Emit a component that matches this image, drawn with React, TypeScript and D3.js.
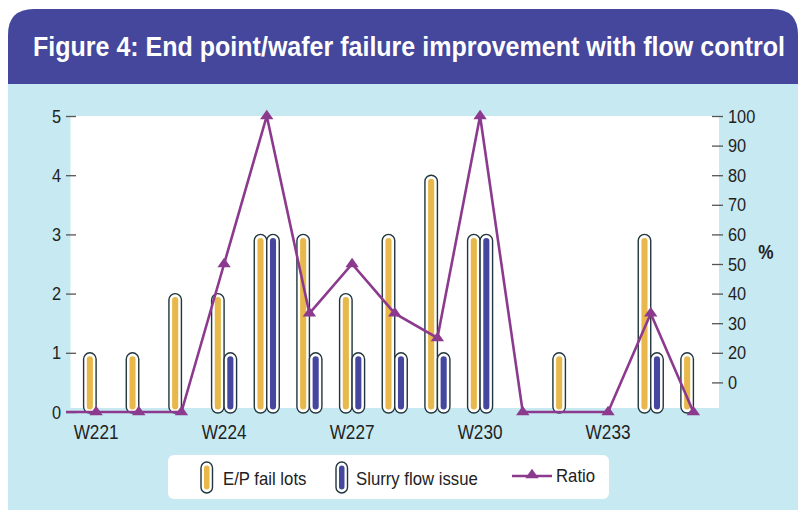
import { useEffect, useRef } from 'react';
import * as d3 from 'd3';

// data
const weeks = ['W221', 'W222', 'W223', 'W224', 'W225', 'W226', 'W227', 'W228', 'W229', 'W230', 'W231', 'W232', 'W233', 'W234', 'W235'];
const epFailLots = [1, 1, 2, 2, 3, 3, 2, 3, 4, 3, 0, 1, 0, 3, 1];
const slurryFlow = [0, 0, 0, 1, 3, 1, 1, 1, 1, 3, 0, 0, 0, 1, 0];
const ratio: (number | null)[] = [0, 0, 0, 50, 100, 33.3, 50, 33.3, 25, 100, 0, null, 0, 33.3, 0];
const xLabels = ['W221', 'W224', 'W227', 'W230', 'W233'];
const leftTicks = [0, 1, 2, 3, 4, 5];
const rightTicks = [10, 20, 30, 40, 50, 60, 70, 80, 90, 100];
const rightTickLabels = ['0', '20', '30', '40', '50', '60', '70', '80', '90', '100'];

const W = 799;
const H = 510;
const FONT = '"Liberation Sans", Arial, sans-serif';
const SX = 0.86; // horizontal squeeze to mimic a condensed face
const PURPLE = '#44479c';
const SKY = '#c7e9f2';
const YELLOW = '#e8b84a';
const BLUE = '#45479e';
const LINE = '#8c3a8e';
const OUTLINE = '#22353c';

const App: React.FC = () => {
    const ref = useRef<SVGSVGElement | null>(null);

    useEffect(() => {
        const svg = d3.select(ref.current);
        svg.selectAll('*').remove();

        const label = (g: d3.Selection<any, unknown, null, undefined>, tx: number, ty: number, s: string, size: number, anchor = 'start', sx = SX) =>
            g.append('text')
                .attr('transform', `translate(${tx},${ty}) scale(${sx},1)`)
                .attr('text-anchor', anchor)
                .attr('fill', '#222')
                .style('font-family', FONT).style('font-size', `${size}px`)
                .text(s);

        // panel + header
        const r = 26;
        svg.append('path')
            .attr('d', `M8,${H} V${9 + r} Q8,9 ${8 + r},9 H${W - 1 - r} Q${W - 1},9 ${W - 1},${9 + r} V${H} Z`)
            .attr('fill', SKY);
        svg.append('path')
            .attr('d', `M8,84 V${9 + r} Q8,9 ${8 + r},9 H${W - 1 - r} Q${W - 1},9 ${W - 1},${9 + r} V84 Z`)
            .attr('fill', PURPLE);
        svg.append('text')
            .attr('transform', `translate(33,56) scale(0.8,1)`)
            .attr('textLength', 752 / 0.8).attr('lengthAdjust', 'spacingAndGlyphs')
            .attr('fill', '#fff')
            .style('font-family', FONT).style('font-weight', 'bold').style('font-size', '28px')
            .text('Figure 4: End point/wafer failure improvement with flow control');

        const plot = { left: 70.5, right: 719, top: 116, bottom: 408 };
        const x = d3.scalePoint<string>().domain(weeks).range([plot.left, plot.right]).padding(0.6);
        const yL = d3.scaleLinear().domain([0, 5]).range([412, 116]);
        const yR = d3.scaleLinear().domain([0, 100]).range([412, 116]);

        svg.append('rect')
            .attr('x', plot.left).attr('y', plot.top)
            .attr('width', plot.right - plot.left).attr('height', plot.bottom - plot.top)
            .attr('fill', '#fff');

        // axes
        const left = svg.append('g')
            .attr('transform', `translate(76,0)`)
            .call(d3.axisLeft(yL).tickValues(leftTicks).tickSize(10).tickPadding(5).tickFormat(d3.format('d')));
        const right = svg.append('g')
            .attr('transform', `translate(712,0)`)
            .call(d3.axisRight(yR).tickValues(rightTicks).tickSize(11).tickPadding(5)
                .tickFormat((d, i) => rightTickLabels[i]));
        [left, right].forEach(g => {
            g.select('.domain').remove();
            g.selectAll('line').attr('stroke', '#555').attr('stroke-width', 1.3);
            g.selectAll<SVGTextElement, unknown>('text')
                .attr('fill', '#222')
                .style('font-family', FONT).style('font-size', '19px')
                .each(function () {
                    const t = d3.select(this);
                    t.attr('x', +t.attr('x') / SX).attr('transform', `scale(${SX},1)`);
                });
        });

        label(svg, 766, 259, '%', 20, 'middle').style('font-weight', 'bold');

        const xl = svg.append('g');
        xLabels.forEach(d => label(xl, x(d)!, 439, d, 20, 'middle'));

        // pill bars
        const bw = 12.5;
        const pill = (g: d3.Selection<SVGGElement, unknown, null, undefined>, bx: number, top: number, bottom: number, color: string) => {
            g.append('rect')
                .attr('x', bx).attr('y', top)
                .attr('width', bw).attr('height', bottom - top)
                .attr('rx', bw / 2)
                .attr('fill', '#fff').attr('stroke', OUTLINE).attr('stroke-width', 1.4);
            g.append('rect')
                .attr('x', bx + 3.2).attr('y', top + 3.5)
                .attr('width', bw - 6.4).attr('height', bottom - top - 7)
                .attr('rx', (bw - 6.4) / 2)
                .attr('fill', color);
        };
        const bars = svg.append('g');
        weeks.forEach((w, i) => {
            const cx = x(w)!;
            if (epFailLots[i] > 0) pill(bars, cx - bw, yL(epFailLots[i]), yL(0) + 1, YELLOW);
            if (slurryFlow[i] > 0) pill(bars, cx, yL(slurryFlow[i]), yL(0) + 1, BLUE);
        });

        // ratio line
        const pts: [number, number][] = weeks
            .map((w, i) => [w, ratio[i]] as [string, number | null])
            .filter(d => d[1] !== null)
            .map(d => [x(d[0])!, yR(d[1] as number)]);
        const linePts: [number, number][] = [[66, pts[0][1]], ...pts];
        svg.append('path')
            .attr('d', d3.line()(linePts)!)
            .attr('fill', 'none').attr('stroke', LINE).attr('stroke-width', 2.6)
            .attr('stroke-linejoin', 'miter');
        const tri = d3.symbol(d3.symbolTriangle, 64)()!;
        svg.append('g').selectAll('path')
            .data(pts)
            .join('path')
            .attr('transform', d => `translate(${d[0]},${d[1]}) scale(1.1,0.9)`)
            .attr('d', tri)
            .attr('fill', LINE);

        // legend
        const lg = svg.append('g');
        lg.append('rect')
            .attr('x', 168).attr('y', 455).attr('width', 441).attr('height', 44)
            .attr('rx', 6).attr('fill', '#fff');
        const lpill = (bx: number, color: string) => {
            lg.append('rect')
                .attr('x', bx).attr('y', 462).attr('width', 11.5).attr('height', 31)
                .attr('rx', 5.75).attr('fill', '#fff').attr('stroke', OUTLINE).attr('stroke-width', 1.4);
            lg.append('rect')
                .attr('x', bx + 3).attr('y', 465.5).attr('width', 5.5).attr('height', 24)
                .attr('rx', 2.75).attr('fill', color);
        };
        lpill(201, YELLOW);
        lpill(336, BLUE);
        label(lg, 223, 485, 'E/P fail lots', 18, 'start', 0.93);
        label(lg, 356, 485, 'Slurry flow issue', 18, 'start', 0.93);
        lg.append('line')
            .attr('x1', 512).attr('x2', 552).attr('y1', 476).attr('y2', 476)
            .attr('stroke', LINE).attr('stroke-width', 2.6);
        lg.append('path')
            .attr('transform', 'translate(532,475) scale(1.1,0.9)')
            .attr('d', tri).attr('fill', LINE);
        label(lg, 556, 482, 'Ratio', 18, 'start', 0.93);
    }, []);

    return (
        <svg ref={ref} width={W} height={H}
            style={{ position: 'absolute', left: 0, top: 0, background: '#fff' }} />
    );
};

export default App;
